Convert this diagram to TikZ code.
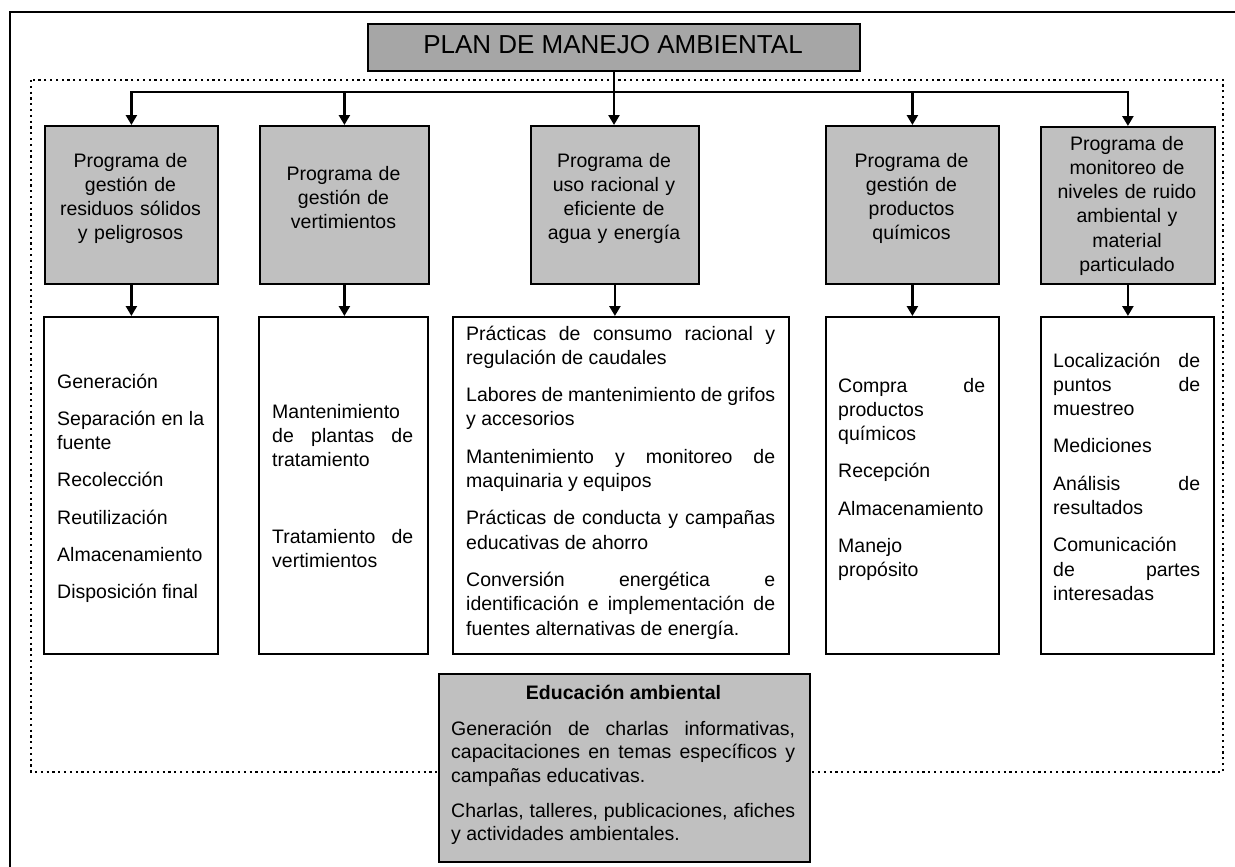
\documentclass[tikz,border=0pt]{standalone}
\usepackage{fontspec}
\setmainfont{Liberation Sans}
\usetikzlibrary{arrows.meta}
\definecolor{titlegray}{HTML}{A6A6A6}
\definecolor{boxgray}{HTML}{C0C0C0}
\hyphenpenalty=10000
\exhyphenpenalty=10000
\tolerance=10000
\hbadness=10000
\newcommand{\bodyfont}{\fontsize{19.5pt}{24.3pt}\selectfont}
\newcommand{\edufont}{\fontsize{19.5pt}{23.5pt}\selectfont}
\begin{document}
\begin{tikzpicture}[x=1pt,y=-1pt,
  conn/.style={line width=2.8pt, draw=black, line join=miter},
  arr/.style={conn, -{Triangle[length=10pt,width=11pt]}},
  gbox/.style={draw=black, line width=1.8pt, fill=boxgray, anchor=north west, inner sep=0pt},
  wbox/.style={draw=black, line width=1.8pt, fill=white, anchor=north west, inner sep=0pt},
  glabel/.style={anchor=base, inner sep=0pt, text width=168pt, align=center, font=\bodyfont},
  btext/.style={anchor=base west, inner sep=0pt, align=justify, font=\bodyfont,
    execute at begin node={\setlength{\parskip}{13pt}}},
  dotline/.style={line width=2.2pt, dash pattern=on 2.2pt off 3.6pt}
]
\useasboundingbox (0,0) rectangle (1235,867);
\clip (0,0) rectangle (1235,867);

% outer frame (only left and top visible)
\draw[line width=2.2pt] (10,880) -- (10,12) -- (1250,12);

% dotted enclosure
\draw[dotline] (31,80) rectangle (1223,772);

% title
\node[draw=black, line width=2pt, fill=titlegray, anchor=north west, inner sep=0pt,
      minimum width=492pt, minimum height=47pt] (title) at (367,23) {};
\node[anchor=base, inner sep=0pt, font=\fontsize{26pt}{30pt}\selectfont] (titletext) at (613,53.5) {PLAN DE MANEJO AMBIENTAL};

% program boxes
\node[gbox, minimum width=173pt, minimum height=158pt] (g1) at (44,125) {};
\node[gbox, minimum width=169pt, minimum height=158pt] (g2) at (259,125) {};
\node[gbox, minimum width=168pt, minimum height=158pt] (g3) at (530,125) {};
\node[gbox, minimum width=173pt, minimum height=158pt] (g4) at (825,125) {};
\node[gbox, minimum width=174pt, minimum height=157pt] (g5) at (1040,126) {};

\node[glabel] (l1) at (130.5,167) {Programa de\\gestión de\\residuos sólidos\\y peligrosos};
\node[glabel] (l2) at (343.5,180) {Programa de\\gestión de\\vertimientos};
\node[glabel] (l3) at (614,167) {Programa de\\uso racional y\\eficiente de\\agua y energía};
\node[glabel] (l4) at (911.5,167) {Programa de\\gestión de\\productos\\químicos};
\node[glabel] (l5) at (1127,150) {Programa de\\monitoreo de\\niveles de ruido\\ambiental y\\material\\particulado};

% detail boxes
\node[wbox, minimum width=174pt, minimum height=337pt] (w1) at (43,316) {};
\node[wbox, minimum width=169pt, minimum height=337pt] (w2) at (258,316) {};
\node[wbox, minimum width=336pt, minimum height=337pt] (w3) at (452,316) {};
\node[wbox, minimum width=173pt, minimum height=337pt] (w4) at (825,316) {};
\node[wbox, minimum width=173pt, minimum height=337pt] (w5) at (1040,316) {};

\node[btext, text width=147pt] (b1) at (57,388) {Generación\par Separación en la\linebreak fuente\par Recolección\par Reutilización\par Almacenamiento\par Disposición final};
\node[btext, text width=141pt] (b2) at (272,418) {Mantenimiento\linebreak de plantas de\linebreak tratamiento\par\vspace{39.7pt}Tratamiento de\linebreak vertimientos};
\node[btext, text width=309pt] (b3) at (466,340) {Prácticas de consumo racional y\linebreak regulación de caudales\par Labores de mantenimiento de grifos\linebreak y accesorios\par Mantenimiento y monitoreo de\linebreak maquinaria y equipos\par Prácticas de conducta y campañas\linebreak educativas de ahorro\par Conversión energética e\linebreak identificación e implementación de\linebreak fuentes alternativas de energía.};
\node[btext, text width=147pt] (b4) at (838,392) {Compra de\linebreak productos\linebreak químicos\par Recepción\par Almacenamiento\par Manejo\linebreak propósito};
\node[btext, text width=147pt] (b5) at (1053,367) {Localización de\linebreak puntos de\linebreak muestreo\par Mediciones\par Análisis de\linebreak resultados\par Comunicación\linebreak de partes\linebreak interesadas};

% education box
\node[gbox, minimum width=371pt, minimum height=188pt] (edu) at (438,673) {};
\node[anchor=base, inner sep=0pt, font=\edufont\bfseries] (edutitle) at (623.5,699) {Educación ambiental};
\node[btext, text width=344pt, font=\edufont, execute at begin node={\setlength{\parskip}{11.5pt}}] (edutext) at (451,735) {Generación de charlas informativas,\linebreak capacitaciones en temas específicos y\linebreak campañas educativas.\par Charlas, talleres, publicaciones, afiches\linebreak y actividades ambientales.};

% connectors
\coordinate (bus) at (613,92);
\draw[arr] (title.south) -- (title.south |- g3.north);
\draw[arr] (bus) -| (g1.north);
\draw[arr] (bus) -| (g2.north);
\draw[arr] (bus) -| (g4.north);
\draw[arr] (bus) -| (g5.north);

\draw[arr] (g1.south) -- (g1.south |- w1.north);
\draw[arr] (g2.south) -- (g2.south |- w2.north);
\draw[arr] (g3.south) -- (g3.south |- w3.north);
\draw[arr] (g4.south) -- (g4.south |- w4.north);
\draw[arr] (g5.south) -- (g5.south |- w5.north);
\end{tikzpicture}
\end{document}
